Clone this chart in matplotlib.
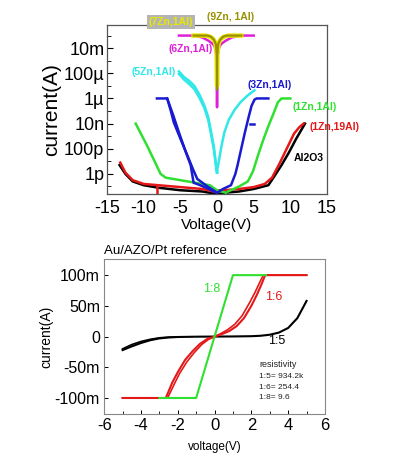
import matplotlib
matplotlib.use("Agg")
import matplotlib.pyplot as plt
import numpy as np
from matplotlib.ticker import FixedLocator, MultipleLocator, NullFormatter

plt.rcParams['font.family'] = ['Liberation Sans', 'DejaVu Sans']

# ---------------- top panel data (V, log10 I) ----------------
olive_v = [-3.2, -1.3, -0.8, -0.4, -0.15, -0.03, 0.0, 0.03, 0.15, 0.4, 0.8, 1.3, 3.3]
olive_logi = [-1.0, -1.0, -1.1, -1.35, -1.7, -2.6, -5.3, -2.6, -1.7, -1.35, -1.1, -1.0, -1.0]

yellow_v = [-3.2, -1.6, -1.0, -0.55, -0.25, -0.06, 0.0, 0.06, 0.25, 0.55, 1.0, 1.6, 3.3]
yellow_logi = [-1.0, -1.0, -1.08, -1.25, -1.55, -2.3, -5.0, -2.3, -1.55, -1.25, -1.08, -1.0, -1.0]

magenta_v = [-5.2, -3.2, -2.0, -1.2, -0.6, -0.3, -0.1, 0.0, 0.1, 0.3, 0.6, 1.2, 2.0, 3.2, 5.0]
magenta_logi = [-1.0, -1.0, -1.15, -1.4, -1.65, -1.9, -2.5, -6.7, -2.5, -1.9, -1.65, -1.4, -1.15, -1.0, -1.0]

cyan_left_v = [-5.2, -4.5, -3.8, -3.1, -2.4, -1.7, -1.2, -0.8, -0.45, -0.2, -0.08, 0.0]
cyan_left_logi = [-3.85, -4.3, -4.6, -5.0, -5.7, -6.6, -7.5, -8.7, -9.8, -11.0, -11.6, -11.9]
cyan_left2_logi = [-4.05, -4.5, -4.85, -5.25, -5.95, -6.8, -7.7, -8.9, -10.0, -11.1, -11.7, -11.9]
cyan_right_v = [0.0, 0.08, 0.3, 0.6, 1.0, 1.6, 2.4, 3.2, 4.1, 5.1]
cyan_right_logi = [-11.9, -11.5, -10.8, -9.8, -8.7, -7.7, -6.9, -6.3, -5.8, -5.35]

blue_left1_v = [-8.2, -6.8, -6.3, -5.9, -5.0, -4.0, -3.3, -2.7, -2.0, -1.3, -0.5, 0.0]
blue_left1_logi = [-6.0, -6.0, -7.0, -7.9, -9.2, -10.6, -11.6, -12.4, -12.7, -13.0, -13.3, -13.5]
blue_left2_v = [-6.8, -6.0, -5.2, -4.3, -3.6, -3.2, -2.3, -1.5, -0.8, 0.0]
blue_left2_logi = [-6.0, -7.3, -8.7, -10.2, -11.3, -12.7, -12.9, -13.1, -13.3, -13.5]
blue_right_v = [0.0, 0.8, 1.9, 2.5, 2.8, 3.3, 3.8, 4.3, 4.7, 5.1, 5.4, 7.0]
blue_right_logi = [-13.5, -13.2, -12.9, -12.0, -11.3, -10.0, -8.7, -7.5, -6.6, -6.1, -6.0, -6.0]
blue_stub_v = [4.45, 5.1]
blue_stub_logi = [-8.0, -8.0]

green_left_v = [-11.1, -10.3, -9.5, -8.6, -7.7, -7.0, -5.0, -3.0, -1.0, 0.0, 1.2]
green_left_logi = [-8.0, -8.9, -9.8, -10.9, -12.0, -12.3, -12.5, -12.7, -12.9, -13.3, -13.5]
green_right_v = [1.5, 3.0, 4.2, 4.9, 5.6, 6.3, 7.0, 7.7, 8.3, 8.8, 9.0, 10.0]
green_right_logi = [-13.4, -13.0, -12.6, -11.8, -10.5, -9.3, -8.2, -7.2, -6.3, -6.0, -6.0, -6.0]

black_v = [-13.3, -12.5, -11.5, -10.0, -8.0, -5.0, -2.0, 0.0, 1.0, 3.0, 5.0, 7.0, 7.8, 8.8, 9.8, 10.8, 11.5, 12.0]
black_logi = [-11.3, -12.0, -12.6, -12.9, -13.1, -13.3, -13.4, -13.6, -13.5, -13.4, -13.2, -12.9, -12.2, -11.3, -10.3, -9.2, -8.5, -8.0]

red_v = [-13.2, -12.5, -11.5, -10.0, -8.0, -6.0, -4.0, -2.0, -0.5, 0.0, 1.0, 3.0, 5.0, 6.5, 7.5, 8.5, 9.5, 10.5, 11.2, 11.8]
red_logi = [-11.1, -11.9, -12.5, -12.8, -12.9, -13.0, -13.1, -13.2, -13.4, -13.3, -13.3, -13.2, -13.05, -12.8, -12.3, -11.2, -10.0, -8.8, -8.3, -8.0]
red_spike_v = [-8.2, -8.2]
red_spike_logi = [-13.0, -14.0]

top_xticks = [-15, -10, -5, 0, 5, 10, 15]
top_yticks = [1e-12, 1e-10, 1e-8, 1e-6, 1e-4, 1e-2]
top_yticklabels = ['1p', '100p', '10n', '1\u00b5', '100\u00b5', '10m']

# ---------------- bottom panel data (V, mA) ----------------
g8_v = [-3.0, -1.0, 1.0, 2.8]
g8_i = [-100, -100, 100, 100]

r6a_v = [-5.0, -2.65, -2.3, -2.0, -1.6, -1.2, -0.8, -0.4, 0.0, 0.4, 0.8, 1.2, 1.6, 2.0, 2.3, 2.55, 2.75, 5.0]
r6a_i = [-100, -100, -75, -58, -38, -24, -12, -4, 0, 4, 9, 17, 30, 50, 68, 85, 100, 100]
r6b_v = [-5.0, -2.55, -2.2, -1.9, -1.5, -1.1, -0.7, -0.35, 0.0, 0.35, 0.7, 1.1, 1.5, 1.9, 2.2, 2.45, 2.65, 5.0]
r6b_i = [-100, -100, -78, -60, -41, -26, -13, -5, 0, 5, 11, 20, 34, 55, 72, 88, 100, 100]

b5a_v = [-5.0, -4.5, -4.0, -3.5, -3.0, -2.5, -2.0, -1.0, 0.0, 1.0, 2.0, 2.5, 3.0, 3.5, 4.0, 4.5, 5.0]
b5a_i = [-22, -16, -10.5, -6, -3, -1.5, -0.7, -0.2, 0, 0.2, 0.6, 1.3, 3, 6.5, 14, 30, 58]
b5b_v = [-5.0, -4.5, -4.0, -3.5, -3.0, -2.5, -2.0]
b5b_i = [-20, -13, -8, -4.5, -2, -1, -0.5]

bot_yticks = [-100, -50, 0, 50, 100]
bot_yticklabels = ['-100m', '-50m', '0', '50m', '100m']
bot_xticks = [-6, -4, -2, 0, 2, 4, 6]

C_OLIVE = '#9a9000'
C_YELLOW = '#e8e800'
C_MAG = '#e020d8'
C_CYAN = '#30e8e8'
C_BLUE = '#1a1ad0'
C_GREEN = '#30e030'
C_RED = '#e41818'
SPINE = '#555555'

fig = plt.figure(figsize=(4.15, 4.62), dpi=100)

# ---------------- top axes ----------------
ax1 = fig.add_axes([0.258, 0.580, 0.530, 0.366])
lw = 1.8
def pl(ax, v, logi, **kw):
    ax.plot(v, np.power(10.0, logi), **kw)

pl(ax1, black_v, black_logi, color='black', lw=lw)
pl(ax1, red_v, red_logi, color=C_RED, lw=lw)
pl(ax1, red_spike_v, red_spike_logi, color=C_RED, lw=lw)
pl(ax1, green_left_v, green_left_logi, color=C_GREEN, lw=lw)
pl(ax1, green_right_v, green_right_logi, color=C_GREEN, lw=lw)
pl(ax1, blue_left1_v, blue_left1_logi, color=C_BLUE, lw=lw)
pl(ax1, blue_left2_v, blue_left2_logi, color=C_BLUE, lw=lw)
pl(ax1, blue_right_v, blue_right_logi, color=C_BLUE, lw=lw)
pl(ax1, blue_stub_v, blue_stub_logi, color=C_BLUE, lw=lw)
pl(ax1, cyan_left_v, cyan_left_logi, color=C_CYAN, lw=lw)
pl(ax1, cyan_left_v, cyan_left2_logi, color=C_CYAN, lw=lw)
pl(ax1, cyan_right_v, cyan_right_logi, color=C_CYAN, lw=lw)
pl(ax1, magenta_v, magenta_logi, color=C_MAG, lw=lw)
pl(ax1, yellow_v, yellow_logi, color=C_YELLOW, lw=3.2)
pl(ax1, olive_v, olive_logi, color=C_OLIVE, lw=1.6)

ax1.set_yscale('log')
ax1.set_xlim(-15, 15)
ax1.set_ylim(2.5e-14, 0.7)
ax1.set_xticks(top_xticks)
ax1.set_xticklabels([str(t) for t in top_xticks], fontsize=13)
ax1.yaxis.set_major_locator(FixedLocator(top_yticks))
ax1.set_yticklabels(top_yticklabels, fontsize=13)
ax1.yaxis.set_minor_locator(FixedLocator([10.0 ** k for k in range(-13, 0, 2)]))
ax1.yaxis.set_minor_formatter(NullFormatter())
ax1.tick_params(axis='both', direction='in', length=4, width=0.8, colors='black', pad=2)
ax1.tick_params(axis='y', which='minor', direction='in', length=3)
ax1.tick_params(axis='x', which='major', length=0, pad=4)
for s in ax1.spines.values():
    s.set_color(SPINE)
    s.set_linewidth(0.9)
ax1.set_ylabel('current(A)', fontsize=15, labelpad=2)
ax1.set_xlabel('Voltage(V)', fontsize=11, labelpad=1)

def lab(ax, x, logy, text, color, **kw):
    ax.text(x, 10.0 ** logy, text, color=color, fontsize=7.5, fontweight='bold',
            ha='center', va='center', clip_on=False, **kw)

lab(ax1, -6.3, 0.08, '(7Zn,1Al)', C_YELLOW,
    bbox=dict(boxstyle='square,pad=0.2', facecolor='#b4b4b4', edgecolor='none'))
lab(ax1, 1.8, 0.47, '(9Zn, 1Al)', C_OLIVE)
lab(ax1, -3.6, -2.05, '(6Zn,1Al)', C_MAG)
lab(ax1, -8.7, -3.9, '(5Zn,1Al)', C_CYAN)
lab(ax1, 7.2, -4.9, '(3Zn,1Al)', C_BLUE)
lab(ax1, 13.3, -6.7, '(1Zn,1Al)', C_GREEN)
lab(ax1, 16.0, -8.3, '(1Zn,19Al)', C_RED)
lab(ax1, 12.5, -10.75, 'Al2O3', 'black')

# ---------------- bottom axes ----------------
ax2 = fig.add_axes([0.251, 0.104, 0.532, 0.335])
ax2.plot(b5a_v, b5a_i, color='black', lw=1.5)
ax2.plot(b5b_v, b5b_i, color='black', lw=1.2)
ax2.plot(r6a_v, r6a_i, color=C_RED, lw=1.5)
ax2.plot(r6b_v, r6b_i, color=C_RED, lw=1.2)
ax2.plot(g8_v, g8_i, color=C_GREEN, lw=1.5)

ax2.set_xlim(-6, 6)
ax2.set_ylim(-126, 126)
ax2.set_xticks(bot_xticks)
ax2.set_xticklabels([str(t) for t in bot_xticks], fontsize=12)
ax2.xaxis.set_minor_locator(MultipleLocator(1))
ax2.set_yticks(bot_yticks)
ax2.set_yticklabels(bot_yticklabels, fontsize=11.5)
ax2.tick_params(axis='both', direction='in', length=3, width=0.7, pad=3)
ax2.tick_params(axis='x', which='minor', direction='in', length=2, width=0.6)
for s in ax2.spines.values():
    s.set_color('#888888')
    s.set_linewidth(0.8)
ax2.set_ylabel('current(A)', fontsize=10, labelpad=1)
ax2.set_xlabel('voltage(V)', fontsize=8.5, labelpad=6)
ax2.set_title('Au/AZO/Pt reference', fontsize=9.5, loc='left', pad=4, x=0.0)

ax2.text(-0.15, 78, '1:8', color=C_GREEN, fontsize=9, ha='center', va='center')
ax2.text(3.24, 65, '1:6', color=C_RED, fontsize=9, ha='center', va='center')
ax2.text(3.4, -8, '1:5', color='black', fontsize=9, ha='center', va='center')
ax2.text(2.44, -46, 'resistivity', color='#222222', fontsize=6.5, ha='left', va='center')
ax2.text(2.44, -65, '1:5= 934.2k', color='#222222', fontsize=6, ha='left', va='center')
ax2.text(2.44, -83, '1:6= 254.4', color='#222222', fontsize=6, ha='left', va='center')
ax2.text(2.44, -100, '1:8= 9.6', color='#222222', fontsize=6, ha='left', va='center')

fig.savefig('out.png', dpi=100)
